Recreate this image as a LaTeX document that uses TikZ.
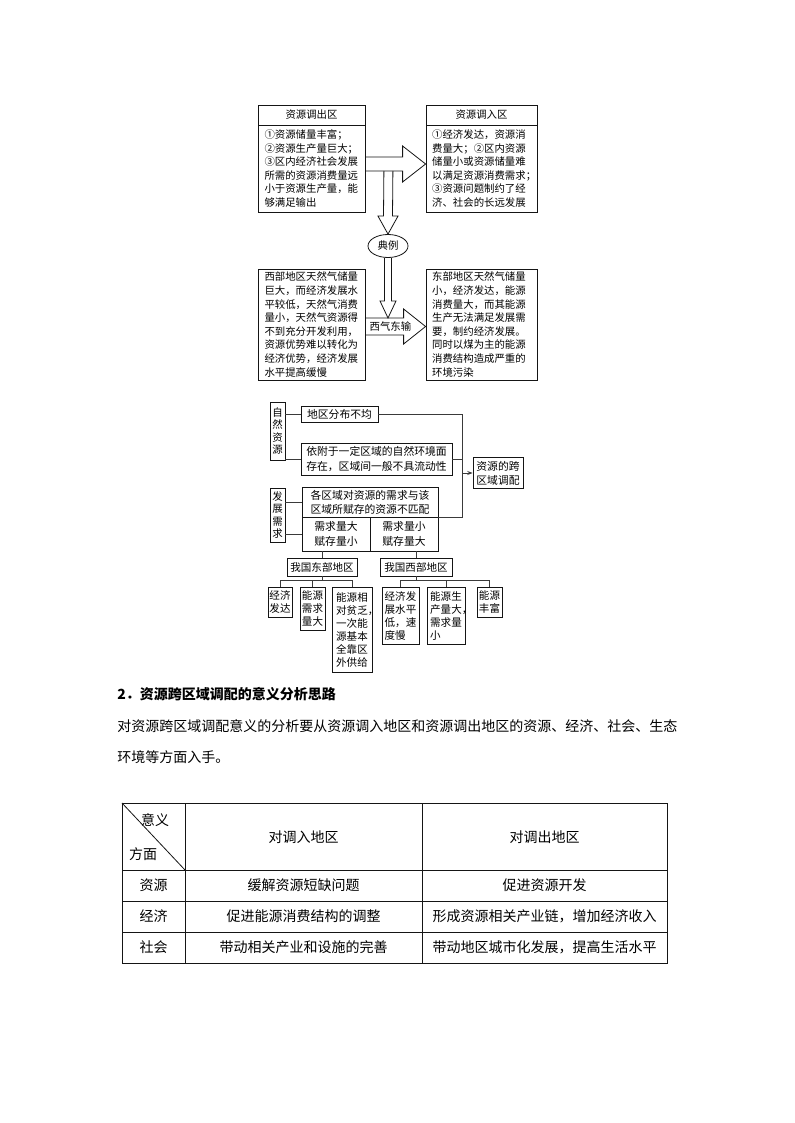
\documentclass[tikz,border=0pt]{standalone}
\usepackage{fontspec}
\setmainfont{Noto Sans CJK SC}
\usepackage{xcolor}
\usepackage{tikz}
\usetikzlibrary{calc,arrows.meta,shapes.geometric}
\definecolor{ink}{HTML}{151515}
\definecolor{wirec}{HTML}{3A3A3A}

\begin{document}
\begin{tikzpicture}[x=0.75pt, y=-0.75pt, line join=miter,
  cell/.style={draw=ink, line width=0.6pt, inner sep=0pt, align=left},
  wh/.style 2 args={minimum width=#1*0.75pt, minimum height=#2*0.75pt},
  txtTop/.style={font=\fontsize{7.8}{10.2}\selectfont},
  txtMid/.style={font=\fontsize{8.1}{10.7}\selectfont},
  txtVert/.style={font=\fontsize{7.8}{9.3}\selectfont, align=center},
  txtTree/.style={font=\fontsize{7.9}{9.75}\selectfont},
  txtBody/.style={font=\fontsize{10.5}{12}\selectfont, inner sep=0pt},
  wire/.style={draw=wirec, line width=0.6pt}]
  \useasboundingbox (0,0) rectangle (794,1123);

  % top: out / in regions
  \node[cell, txtTop, wh={107}{20}, align=center] (outHead) at (311.5,115) {资源调出区};
  \node[cell, txtTop, wh={107}{87}, text width=70.5pt] (outBody) at (311.5,168.5)
    {①资源储量丰富；\\②资源生产量巨大；\\③区内经济社会发展\\所需的资源消费量远\\小于资源生产量，能\\够满足输出};
  \node[cell, txtTop, wh={111}{20}, align=center] (inHead) at (481.5,115) {资源调入区};
  \node[cell, txtTop, wh={111}{87}, text width=74pt] (inBody) at (481.5,168.5)
    {①经济发达，资源消\\费量大；②区内资源\\储量小或资源储量难\\以满足资源消费需求；\\③资源问题制约了经\\济、社会的长远发展};
  \node[draw=ink, line width=0.6pt, ellipse, inner sep=0pt, wh={40}{23}, txtTop] (typ) at (388,246) {典例};
  \node[cell, txtTop, wh={107}{111}, text width=70.5pt] (westBox) at (311.5,324.5)
    {西部地区天然气储量\\巨大，而经济发展水\\平较低，天然气消费\\量小，天然气资源得\\不到充分开发利用，\\资源优势难以转化为\\经济优势，经济发展\\水平提高缓慢};
  \node[cell, txtTop, wh={111}{111}, text width=74pt] (eastBox) at (481.5,324.5)
    {东部地区天然气储量\\小，经济发达，能源\\消费量大，而其能源\\生产无法满足发展需\\要，制约经济发展。\\同时以煤为主的能源\\消费结构造成严重的\\环境污染};

  % hollow arrow out -> in
  \coordinate (hA) at ($(outBody.east)+(0,-4.5)$);
  \coordinate (hB) at ($(inBody.west)+(0,-4.5)$);
  \draw[ink, line width=0.6pt] ($(hA)+(0,-7)$) -- ($(hB)+(-23,-7)$) -- ($(hB)+(-23,-18)$) -- (hB)
    -- ($(hB)+(-23,18)$) -- ($(hB)+(-23,7)$) -- ($(hA)+(0,7)$);
  % hollow arrow down to the example
  \coordinate (vA) at ($(hA)+(23,7)$);
  \draw[ink, line width=0.6pt] ($(vA)+(-4.5,0)$) -- ($(typ.north)+(-4.5,-18)$) -- ($(typ.north)+(-10,-18)$) -- (typ.north)
    -- ($(typ.north)+(10,-18)$) -- ($(typ.north)+(4.5,-18)$) -- ($(vA)+(4.5,0)$);
  % west -> east gas arrow
  \coordinate (gA) at ($(westBox.east)+(0,2)$);
  \coordinate (gB) at ($(eastBox.west)+(0,2)$);
  \draw[ink, line width=0.6pt] ($(gA)+(0,-8.5)$) -- ($(gB)+(-22,-8.5)$) -- ($(gB)+(-22,-17.5)$) -- (gB)
    -- ($(gB)+(-22,17.5)$) -- ($(gB)+(-22,8.5)$) -- ($(gA)+(0,8.5)$);
  \node[txtTop, inner sep=0pt] (gasLbl) at ($(gA)+(25,0)$) {西气东输};
  \coordinate (gTop) at ($(gA)+(0,-8.5)$);
  \coordinate (d2) at (typ.south |- gTop);
  \draw[ink, line width=0.6pt] ($(typ.south)+(-3.5,0)$) -- ($(d2)+(-3.5,-17)$) -- ($(d2)+(-8,-17)$) -- (d2)
    -- ($(d2)+(8,-17)$) -- ($(d2)+(3.5,-17)$) -- ($(typ.south)+(3.5,0)$);

  % middle: causes
  \node[cell, txtVert, wh={15}{58}] (natRes) at (277.5,431) {自\\然\\资\\源};
  \node[cell, txtVert, wh={15}{54}] (devNeed) at (277.5,515) {发\\展\\需\\求};
  \node[cell, txtMid, wh={77}{16}] (uneven) at (339.5,414) {地区分布不均};
  \node[cell, txtMid, wh={151}{32}] (attach) at (376.5,459)
    {依附于一定区域的自然环境面\\存在，区域间一般不具流动性};
  \node[cell, txtMid, wh={136}{30}, align=center] (mismatch) at (370,502)
    {各区域对资源的需求与该\\区域所赋存的资源不匹配};
  \node[cell, txtMid, wh={68}{34}, align=center] (bigNeed) at (336,534) {需求量大\\赋存量小};
  \node[cell, txtMid, wh={68}{34}, align=center] (smallNeed) at (404,534) {需求量小\\赋存量大};
  \node[cell, txtMid, wh={50}{31}, align=center] (cross) at (498,473) {资源的跨\\区域调配};

  \draw[wire] (natRes.east |- uneven.west) -- (uneven.west);
  \draw[wire] (natRes.east |- attach.west) -- (attach.west);
  \draw[wire] (devNeed.east |- mismatch.west) -- (mismatch.west);
  \draw[wire] (devNeed.east |- bigNeed.west) -- (bigNeed.west);
  \coordinate (busTop) at ($(uneven.east)+(84,0)$);
  \draw[wire] (uneven.east) -- (busTop) -- (busTop |- mismatch.south east) -- (mismatch.south east);
  \draw[wire] (attach.east) -- (busTop |- attach.east);
  \draw[wire, -{Stealth[length=4pt,width=3pt]}] (busTop |- cross.west) -- (cross.west);

  % bottom: east / west tree
  \node[cell, txtTree, wh={70}{18}, align=center] (east) at (322,567) {我国东部地区};
  \node[cell, txtTree, wh={72}{18}, align=center] (west) at (416,567) {我国西部地区};
  \draw[wire] (east.north) -- (east.north |- bigNeed.south);
  \draw[wire] (west.north) -- (west.north |- smallNeed.south);
  \node[cell, txtTree, wh={24}{30}, anchor=north] (ecoDev) at (280,587) {经济\\发达};
  \node[cell, txtTree, wh={25}{43}, anchor=north] (eneNeed) at (312.5,587) {能源\\需求\\量大};
  \node[cell, txtTree, wh={40}{85}, anchor=north] (eneLack) at (352,587)
    {能源相\\对贫乏\rlap{，}\\一次能\\源基本\\全靠区\\外供给};
  \node[cell, txtTree, wh={37}{57}, anchor=north] (ecoLow) at (400.5,587) {经济发\\展水平\\低，速\\度慢};
  \node[cell, txtTree, wh={38}{57}, anchor=north] (eneProd) at (446,587) {能源生\\产量大\rlap{，}\\需求量\\小};
  \node[cell, txtTree, wh={25}{30}, anchor=north] (eneRich) at (489.5,587) {能源\\丰富};
  \foreach \c in {ecoDev,eneNeed,eneLack}
    \draw[wire] (east.south) |- ($(\c.north)+(0,-7)$) -- (\c.north);
  \foreach \c in {ecoLow,eneProd,eneRich}
    \draw[wire] (west.south) |- ($(\c.north)+(0,-7)$) -- (\c.north);

  % text
  \node[txtBody, anchor=west] (secHead) at (117,694) {\bfseries 2．资源跨区域调配的意义分析思路};
  \node[txtBody, anchor=west] (para1) at (117,726) {对资源跨区域调配意义的分析要从资源调入地区和资源调出地区的资源、经济、社会、生态};
  \node[txtBody, anchor=west] (para2) at (117,757) {环境等方面入手。};

  % table
  \draw[ink, line width=0.6pt] (122,803) rectangle (667,963);
  \foreach \y in {870,901,932} \draw[ink, line width=0.6pt] (122,\y) -- (667,\y);
  \foreach \x in {185,422} \draw[ink, line width=0.6pt] (\x,803) -- (\x,963);
  \draw[ink, line width=0.6pt] (122,803) -- (185,870);
  \node[txtBody] (hdMean) at (155,820) {意义};
  \node[txtBody] (hdSide) at (143,854) {方面};
  \node[txtBody] (hdIn) at (303.5,837) {对调入地区};
  \node[txtBody] (hdOut) at (544.5,837) {对调出地区};
  \foreach \i/\y/\a/\b/\c in {1/885.5/资源/缓解资源短缺问题/促进资源开发,
      2/916.5/经济/促进能源消费结构的调整/形成资源相关产业链，增加经济收入,
      3/947.5/社会/带动相关产业和设施的完善/带动地区城市化发展，提高生活水平}{
    \node[txtBody] (lab\i) at (153.5,\y) {\a};
    \node[txtBody] (inC\i) at (303.5,\y) {\b};
    \node[txtBody] (outC\i) at (544.5,\y) {\c};
  }
\end{tikzpicture}
\end{document}
